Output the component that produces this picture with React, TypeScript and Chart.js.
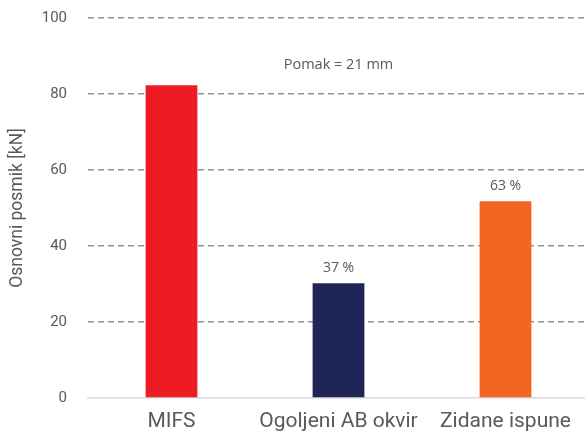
import React, { useEffect, useRef } from "react";
import { Chart, registerables } from "chart.js";

Chart.register(...registerables);

const categories = ["MIFS", "Ogoljeni AB okvir", "Zidane ispune"];
const values = [82.3, 30.2, 51.8];
const barColors = ["#ED1C24", "#1F2557", "#F26522"];
const barLabels = ["", "37 %", "63 %"];
const yTicks = [0, 20, 40, 60, 80, 100];
const yTitle = "Osnovni posmik [kN]";
const noteText = "Pomak = 21 mm";
const noteValue = 87.6;

const FONT = "Roboto, 'Noto Sans', sans-serif";
const FONT2 = "'Open Sans', 'Noto Sans', sans-serif";
const TEXT = "#595959";

const labelPlugin = {
  id: "barLabels",
  afterDatasetsDraw(chart: any) {
    const { ctx } = chart;
    const meta = chart.getDatasetMeta(0);
    ctx.save();
    ctx.fillStyle = TEXT;
    ctx.textAlign = "center";
    ctx.textBaseline = "middle";
    ctx.font = `14px ${FONT2}`;
    meta.data.forEach((el: any, i: number) => {
      const t = barLabels[i];
      if (t) ctx.fillText(t, el.x, el.y - 15);
    });
    const mid = meta.data[1];
    ctx.font = `14.5px ${FONT2}`;
    ctx.fillText(noteText, mid.x, chart.scales.y.getPixelForValue(noteValue));
    ctx.restore();
  },
};

export default function App() {
  const ref = useRef<HTMLCanvasElement>(null);
  useEffect(() => {
    if (!ref.current) return;
    const chart = new Chart(ref.current, {
      type: "bar",
      data: {
        labels: categories,
        datasets: [
          {
            data: values,
            backgroundColor: barColors,
            borderWidth: 0,
            categoryPercentage: 1,
            barPercentage: 0.31,
          },
        ],
      },
      options: {
        responsive: false,
        animation: false,
        devicePixelRatio: 1,
        layout: { padding: { top: 18, right: 0, bottom: 0, left: 0 } },
        plugins: {
          legend: { display: false },
          tooltip: { enabled: false },
        },
        scales: {
          x: {
            grid: { display: false, drawTicks: false },
            border: { display: true, color: "#d9d9d9", width: 1.5 },
            ticks: {
              color: TEXT,
              font: { family: FONT, size: 21 },
              padding: 11,
              maxRotation: 0,
            },
            afterFit: (s: any) => {
              s.height = 37;
            },
          },
          y: {
            min: 0,
            max: 100,
            afterBuildTicks: (s: any) => {
              s.ticks = yTicks.map((v) => ({ value: v }));
            },
            grid: {
              drawTicks: false,
              lineWidth: 1.5,
              color: (c: any) => (c.tick && c.tick.value === 0 ? "rgba(0,0,0,0)" : "#939393"),
            },
            border: { display: false, dash: [6, 4] },
            ticks: {
              color: TEXT,
              font: { family: FONT, size: 15 },
              padding: 21,
            },
            title: {
              display: true,
              text: yTitle,
              color: TEXT,
              font: { family: FONT, size: 17.5 },
              padding: { top: 7, bottom: 0 },
            },
            afterFit: (s: any) => {
              s.width = 88;
              s.paddingTop = 0;
              s.paddingBottom = 0;
            },
          },
        },
      },
      plugins: [labelPlugin],
    });
    return () => chart.destroy();
  }, []);

  return (
    <div style={{ position: "fixed", left: 0, top: 0, width: 585, height: 435, overflow: "hidden", background: "#fff" }}>
      <canvas ref={ref} width={589} height={435} style={{ display: "block" }} />
    </div>
  );
}
